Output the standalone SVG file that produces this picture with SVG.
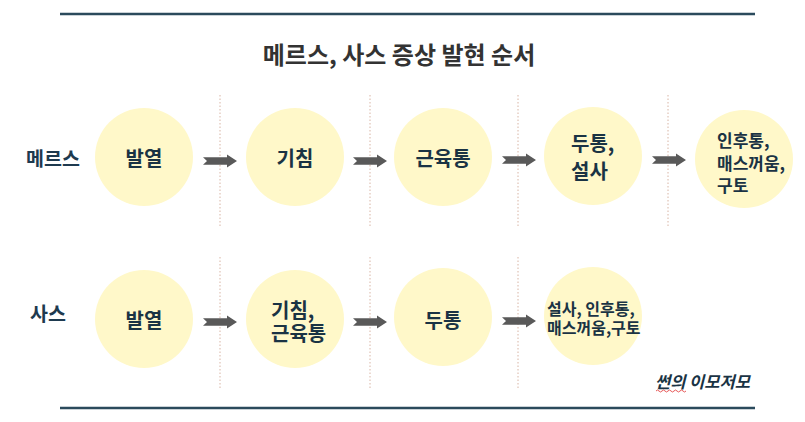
<svg xmlns="http://www.w3.org/2000/svg" width="805" height="422" viewBox="0 0 805 422">
<style>
text{font-family:"Noto Sans CJK KR","Noto Sans",sans-serif;dominant-baseline:central}
.title{font-size:24px;font-weight:700;fill:#333333}
.row{font-size:19.5px;font-weight:700;fill:#1e3a4f}
.lbl{font-size:20px;font-weight:700;fill:#1a3344}
.sm{font-size:17px;font-weight:700;fill:#1a3344}
.xs{font-size:16px;font-weight:700;fill:#1a3344}
.circ{fill:#fff8c9}
.rule{stroke:#2b4a5c;stroke-width:2.5}
.sep{stroke:#d8b4a4;stroke-width:1;stroke-dasharray:1.5 2}
.foot{font-size:16.5px;font-style:italic;font-weight:700;fill:#1a3344}
</style>
<defs>
<path id="arr" d="M0,-3.8 L24,-3.8 L24,-6.5 L34,0 L24,6.5 L24,3.8 L0,3.8 L4,0 Z" fill="#595959"/>
</defs>
<line class="rule" x1="60" y1="14" x2="755" y2="14"/>
<line class="rule" x1="60" y1="408" x2="755" y2="408"/>
<text class="title" x="399" y="53" text-anchor="middle">메르스, 사스 증상 발현 순서</text>
<g id="separators">
<line class="sep" x1="220" y1="95" x2="220" y2="228"/>
<line class="sep" x1="370" y1="95" x2="370" y2="228"/>
<line class="sep" x1="518" y1="95" x2="518" y2="228"/>
<line class="sep" x1="668" y1="95" x2="668" y2="228"/>
<line class="sep" x1="220" y1="257" x2="220" y2="390"/>
<line class="sep" x1="370" y1="257" x2="370" y2="390"/>
<line class="sep" x1="518" y1="257" x2="518" y2="390"/>
</g>
<text class="row" x="26" y="157">메르스</text>
<text class="row" x="30" y="312">사스</text>
<g id="connectors">
<use href="#arr" x="203" y="161"/>
<use href="#arr" x="353" y="161"/>
<use href="#arr" x="502" y="160"/>
<use href="#arr" x="652" y="160"/>
<use href="#arr" x="203" y="322"/>
<use href="#arr" x="353" y="322"/>
<use href="#arr" x="502" y="321"/>
</g>
<g id="m1"><circle class="circ" cx="144" cy="157" r="49"/><text class="lbl" x="144" y="157" text-anchor="middle">발열</text></g>
<g id="m2"><circle class="circ" cx="295" cy="157" r="49"/><text class="lbl" x="295" y="157" text-anchor="middle">기침</text></g>
<g id="m3"><circle class="circ" cx="443" cy="157" r="49"/><text class="lbl" x="443" y="157" text-anchor="middle">근육통</text></g>
<g id="m4"><circle class="circ" cx="593" cy="156" r="49"/><text class="lbl"><tspan x="571" y="142">두통,</tspan><tspan x="571" y="170">설사</tspan></text></g>
<g id="m5"><circle class="circ" cx="744" cy="159" r="49"/><text class="sm"><tspan x="717" y="139">인후통,</tspan><tspan x="717" y="161.5">매스꺼움,</tspan><tspan x="717" y="184">구토</tspan></text></g>
<g id="s1"><circle class="circ" cx="144" cy="319" r="49"/><text class="lbl" x="144" y="319" text-anchor="middle">발열</text></g>
<g id="s2"><circle class="circ" cx="295" cy="319" r="49"/><text class="lbl"><tspan x="271" y="309">기침,</tspan><tspan x="271" y="332">근육통</tspan></text></g>
<g id="s3"><circle class="circ" cx="443" cy="317" r="49"/><text class="lbl" x="443" y="319" text-anchor="middle">두통</text></g>
<g id="s4"><circle class="circ" cx="593" cy="316" r="49"/><text class="xs"><tspan x="547" y="308">설사, 인후통,</tspan><tspan x="547" y="327">매스꺼움,구토</tspan></text></g>
<text class="foot" x="655" y="381">썬의 이모저모</text>
<path d="M656,391 q1.5,-2 3,0 t3,0 t3,0 t3,0 t3,0 t3,0 t3,0 t3,0 t3,0 t3,0" fill="none" stroke="#e03030" stroke-width="0.8"/>
</svg>
